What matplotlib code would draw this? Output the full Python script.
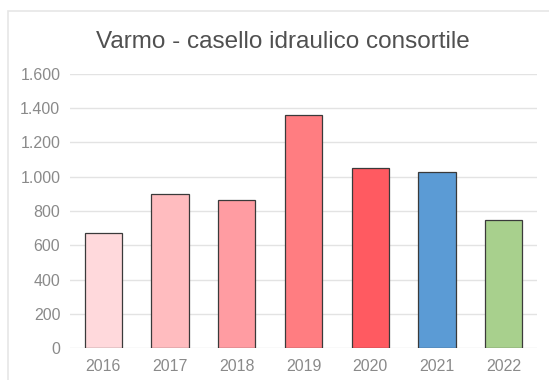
import matplotlib.pyplot as plt
from matplotlib.patches import Rectangle
from matplotlib.ticker import FuncFormatter

YEARS = ["2016", "2017", "2018", "2019", "2020", "2021", "2022"]
VALUES = [670, 901, 864, 1362, 1051, 1028, 749]
COLORS = ["#ffd9dc", "#ffbcbf", "#ff9ca2", "#ff7d81", "#ff5a61", "#5b9bd5", "#a8d08d"]
TITLE = "Varmo - casello idraulico consortile"

plt.rcParams["font.family"] = ["Liberation Sans", "DejaVu Sans"]

fig = plt.figure(figsize=(5.49, 3.80), dpi=100)
fig.patch.set_facecolor("white")

# light frame round the chart area
fig.patches.append(Rectangle((8 / 549, -0.05), 1.2, 1 - 10.5 / 380 + 0.05,
                             transform=fig.transFigure, fill=False,
                             edgecolor="#e6e6e6", linewidth=1.2))

ax = fig.add_axes([70 / 549, 1 - 348 / 380, 467 / 549, 274 / 380])
x = range(len(YEARS))
ax.bar(x, VALUES, width=0.56, color=COLORS, edgecolor="#3a3a3a", linewidth=0.9, zorder=3)

ax.set_xlim(-0.5, len(YEARS) - 0.5)
ax.set_ylim(0, 1600)
ax.set_yticks(range(0, 1601, 200))
ax.yaxis.set_major_formatter(FuncFormatter(lambda v, p: f"{int(v):,}".replace(",", ".")))
ax.set_xticks(list(x))
ax.set_xticklabels(YEARS)

ax.grid(axis="y", color="#e3e3e3", linewidth=1.0, zorder=0)
for s in ax.spines.values():
    s.set_visible(False)
ax.tick_params(axis="both", length=0, colors="#8a8a8a", labelsize=11.5)
ax.tick_params(axis="y", pad=7)
ax.tick_params(axis="x", pad=8)

fig.text(283 / 549, 1 - 42 / 380, TITLE, ha="center", va="center",
         fontsize=17.5, color="#505050")

fig.savefig("out.png", dpi=100)
